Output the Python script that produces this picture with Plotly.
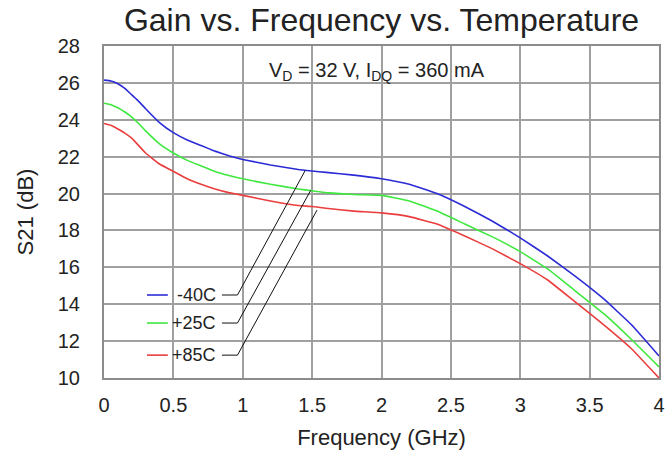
import plotly.graph_objects as go

freq = [0, 0.05, 0.1, 0.15, 0.2, 0.25, 0.3, 0.4, 0.5, 0.6, 0.7, 0.8, 0.9, 1.0, 1.2, 1.4, 1.5, 1.6,
        1.8, 2.0, 2.2, 2.4, 2.6, 2.8, 3.0, 3.2, 3.4, 3.6, 3.8, 4.0]
s21_m40 = [26.15, 26.1, 25.95, 25.7, 25.35, 25.0, 24.6, 23.85, 23.3, 22.9, 22.6, 22.3, 22.05,
           21.85, 21.55, 21.3, 21.22, 21.15, 21.0, 20.8, 20.5, 20.0, 19.3, 18.5, 17.6, 16.6,
           15.5, 14.3, 12.9, 11.2]
s21_p25 = [24.9, 24.82, 24.65, 24.42, 24.15, 23.8, 23.4, 22.7, 22.2, 21.8, 21.5, 21.2, 20.98,
           20.8, 20.5, 20.25, 20.15, 20.05, 19.95, 19.9, 19.6, 19.05, 18.35, 17.65, 16.85, 15.9,
           14.7, 13.5, 12.1, 10.6]
s21_p85 = [23.8, 23.7, 23.5, 23.28, 23.0, 22.6, 22.2, 21.6, 21.2, 20.8, 20.5, 20.25, 20.05,
           19.9, 19.6, 19.35, 19.3, 19.2, 19.05, 18.95, 18.75, 18.35, 17.7, 17.0, 16.2, 15.3,
           14.1, 12.9, 11.6, 10.0]

series_names = ["-40C", "+25C", "+85C"]
series_colors = ["#2b2bd6", "#3fe83f", "#ea3d3d"]
series_values = [s21_m40, s21_p25, s21_p85]

x_ticks = [0, 0.5, 1, 1.5, 2, 2.5, 3, 3.5, 4]
x_tick_labels = ["0", "0.5", "1", "1.5", "2", "2.5", "3", "3.5", "4"]
y_ticks = [10, 12, 14, 16, 18, 20, 22, 24, 26, 28]

# legend label layout (data coords): label y, connector target point on curve
label_y = [14.5, 12.98, 11.24]
target_x = [1.45, 1.49, 1.535]
target_y = [21.25, 20.18, 19.1]

font_family = "Liberation Sans, Arial, sans-serif"
text_color = "#222222"
grid_color = "#a0a0a0"

fig = go.Figure()
for name, col, vals in zip(series_names, series_colors, series_values):
    fig.add_trace(go.Scatter(x=freq, y=vals, mode="lines", name=name,
                             line=dict(color=col, width=1.6, shape="spline", smoothing=0.3),
                             showlegend=False))

shapes = []
annotations = []
# white box behind the condition text
shapes.append(dict(type="rect", xref="x", yref="y", x0=1.05, x1=2.94, y0=25.45, y1=27.35,
                   fillcolor="white", line=dict(width=0), layer="below"))
# white box behind the legend
shapes.append(dict(type="rect", xref="x", yref="y", x0=0.137, x1=0.99, y0=10.2, y1=15.45,
                   fillcolor="white", line=dict(width=0), layer="below"))

for name, col, ly, tx, ty in zip(series_names, series_colors, label_y, target_x, target_y):
    shapes.append(dict(type="line", xref="x", yref="y", x0=0.31, x1=0.46, y0=ly, y1=ly,
                       line=dict(color=col, width=1.6)))
    shapes.append(dict(type="path", xref="x", yref="y",
                       path=f"M 0.85 {ly} L 0.962 {ly} L {tx} {ty}",
                       line=dict(color="#111111", width=1)))
    annotations.append(dict(x=0.82, y=ly, xref="x", yref="y", text=name, showarrow=False,
                            xanchor="right", yanchor="middle",
                            font=dict(family=font_family, size=18, color=text_color)))

annotations.append(dict(x=1.97, y=26.6, xref="x", yref="y",
                        text="V<sub>D</sub> = 32 V, I<sub>DQ</sub> = 360 mA",
                        showarrow=False, xanchor="center", yanchor="middle",
                        font=dict(family=font_family, size=20, color=text_color)))

fig.update_layout(
    width=666, height=455,
    margin=dict(l=104, r=7, t=46, b=77),
    paper_bgcolor="white", plot_bgcolor="white",
    title=dict(text="Gain vs. Frequency vs. Temperature", x=0.5, xref="paper",
               y=1 - 20 / 455, yref="container", yanchor="middle", xanchor="center",
               font=dict(family=font_family, size=32, color=text_color)),
    font=dict(family=font_family, color=text_color),
    shapes=shapes, annotations=annotations,
)
fig.update_xaxes(range=[0, 4], tickvals=x_ticks, ticktext=x_tick_labels,
                 showgrid=True, gridcolor=grid_color, gridwidth=2,
                 showline=True, linecolor="#8c8c8c", linewidth=2, mirror=True,
                 ticks="", ticklabelstandoff=8, zeroline=False, automargin=False,
                 tickfont=dict(size=20, color=text_color),
                 title=dict(text="Frequency (GHz)", font=dict(size=22, color=text_color), standoff=15))
fig.update_yaxes(range=[10, 28], tickvals=y_ticks,
                 showgrid=True, gridcolor=grid_color, gridwidth=2,
                 showline=True, linecolor="#8c8c8c", linewidth=2, mirror=True,
                 ticks="", ticklabelstandoff=18, zeroline=False, automargin=False,
                 tickfont=dict(size=20, color=text_color),
                 title=dict(text="S21 (dB)", font=dict(size=22, color=text_color), standoff=18))

fig.write_html("out.html", config={"displayModeBar": False},
               post_script="document.body.style.margin='0';document.body.style.padding='0';")
